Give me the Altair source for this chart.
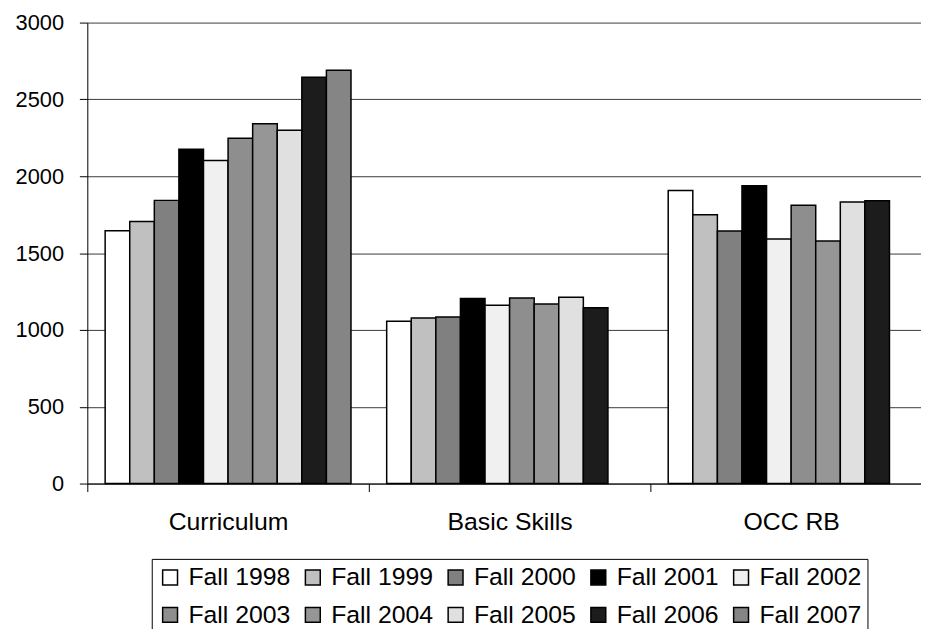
import altair as alt
import pandas as pd

categories = ["Curriculum", "Basic Skills", "OCC RB"]
years = ["Fall 1998", "Fall 1999", "Fall 2000", "Fall 2001", "Fall 2002",
         "Fall 2003", "Fall 2004", "Fall 2005", "Fall 2006", "Fall 2007"]

# values per category, one entry per year (None = no bar)
curriculum = [1645, 1705, 1843, 2176, 2103, 2247, 2342, 2299, 2645, 2690]
basic_skills = [1056, 1077, 1084, 1204, 1161, 1208, 1168, 1213, 1144, None]
occ_rb = [1908, 1750, 1643, 1938, 1591, 1811, 1578, 1832, 1841, None]

year_colors = ["#ffffff", "#c0c0c0", "#808080", "#000000", "#f0f0f0",
               "#8e8e8e", "#969696", "#e0e0e0", "#1c1c1c", "#858585"]

y_ticks = [0, 500, 1000, 1500, 2000, 2500, 3000]

rows = []
for cat, vals in zip(categories, [curriculum, basic_skills, occ_rb]):
    for yr, v in zip(years, vals):
        if v is not None:
            rows.append({"category": cat, "year": yr, "value": v})
df = pd.DataFrame(rows)

FONT = "Liberation Sans"

chart = alt.Chart(df).mark_bar(stroke="black", strokeWidth=1.5).encode(
    x=alt.X(
        "category:N", sort=categories, title=None,
        scale=alt.Scale(range=[0, 852], paddingInner=0, paddingOuter=0),
        axis=alt.Axis(labelAngle=0, labelFontSize=25, labelFont=FONT, labelColor="black",
                      labelPadding=18, tickSize=8, tickBand="extent", tickColor="black",
                      domainColor="black", domainWidth=1, tickWidth=1),
    ),
    xOffset=alt.XOffset("year:N", sort=years,
                        scale=alt.Scale(domain=years, paddingInner=0, paddingOuter=0.726)),
    y=alt.Y(
        "value:Q", title=None,
        scale=alt.Scale(domain=[0, 3000], nice=False),
        axis=alt.Axis(values=y_ticks, format="d", labelFontSize=22, labelFont=FONT,
                      labelColor="black", labelPadding=16, tickSize=8, tickColor="black",
                      domainColor="black", grid=True, gridColor="#3a3a3a", gridWidth=1,
                      gridOpacity=1),
    ),
    fill=alt.Fill(
        "year:N", sort=years, title=None,
        scale=alt.Scale(domain=years, range=year_colors),
        legend=alt.Legend(orient="none", legendX=65, legendY=541, columns=5,
                          direction="horizontal",
                          symbolType="square", symbolSize=225, symbolStrokeColor="black",
                          symbolStrokeWidth=1.5, symbolOpacity=1,
                          labelFontSize=25, labelFont=FONT, labelColor="black",
                          labelOffset=6, labelLimit=0, columnPadding=10, rowPadding=12,
                          padding=6, strokeColor="black", fillColor="white"),
    ),
).properties(
    width=841, height=465,
    autosize=alt.AutoSizeParams(type="none"),
    padding={"left": 80, "top": 12, "right": 0, "bottom": 144},
).configure_view(strokeWidth=0).configure_legend(strokeWidth=1)

chart.save("out.html", embed_options={"renderer": "svg", "actions": False})
